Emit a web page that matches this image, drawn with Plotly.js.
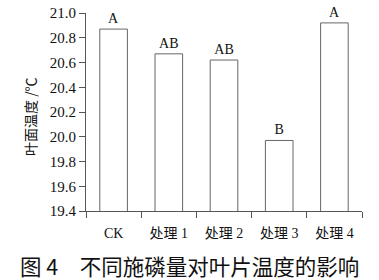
<!DOCTYPE html>
<html><head><meta charset="utf-8">
<script src="https://cdn.plot.ly/plotly-3.0.1.min.js"></script>
<style>html,body{margin:0;padding:0;background:#fff}#c{width:379px;height:280px}</style>
</head><body><div id="c"></div>
<script>
const categories = ["CK", "处理 1", "处理 2", "处理 3", "处理 4"];
const values = [20.87, 20.67, 20.62, 19.97, 20.92];
const letters = ["A", "AB", "AB", "B", "A"];
const yTicks = [19.4, 19.6, 19.8, 20.0, 20.2, 20.4, 20.6, 20.8, 21.0];
const yTickLabels = yTicks.map(v => v.toFixed(1));

const serif = "Liberation Serif, Times New Roman, serif";
const cjk = "Liberation Serif, Noto Sans CJK SC, serif";

const trace = {
  type: "bar",
  x: categories,
  y: values,
  text: letters,
  textposition: "outside",
  cliponaxis: false,
  textfont: {family: serif, size: 14, color: "#111"},
  width: 0.5,
  marker: {color: "#fff", line: {color: "#666", width: 1}},
  hoverinfo: "none"
};

const layout = {
  width: 379, height: 280,
  margin: {l: 86, r: 17, t: 13, b: 69},
  paper_bgcolor: "#fff", plot_bgcolor: "#fff",
  showlegend: false,
  bargap: 0.5,
  xaxis: {
    type: "category",
    showline: true, linecolor: "#555", linewidth: 1,
    ticks: "outside", tickson: "boundaries", ticklen: 6, tickcolor: "#555",
    tickfont: {family: cjk, size: 14, color: "#111"},
    ticklabelstandoff: 9,
    showgrid: false, zeroline: false, fixedrange: true
  },
  yaxis: {
    range: [19.4, 21.0],
    tickvals: yTicks, ticktext: yTickLabels,
    showline: true, linecolor: "#555", linewidth: 1,
    ticks: "outside", ticklen: 6, tickcolor: "#555",
    tickfont: {family: serif, size: 15, color: "#111"},
    showgrid: false, zeroline: false, fixedrange: true
  },
  annotations: [
    {text: "叶面温度 /℃", textangle: -90, xref: "paper", yref: "paper",
     x: (30 - 86) / 276, y: (211 - 117) / 198, xanchor: "center", yanchor: "middle",
     showarrow: false, font: {family: "Noto Sans CJK SC", size: 14, color: "#111"}},
    {text: "图 4　不同施磷量对叶片温度的影响", xref: "paper", yref: "paper",
     x: (189 - 86) / 276, y: -(265 - 211) / 198, xanchor: "center", yanchor: "middle",
     showarrow: false, font: {family: "Noto Sans CJK SC", size: 21.5, color: "#111"}}
  ]
};

Plotly.newPlot("c", [trace], layout, {staticPlot: true, displayModeBar: false});
</script></body></html>
